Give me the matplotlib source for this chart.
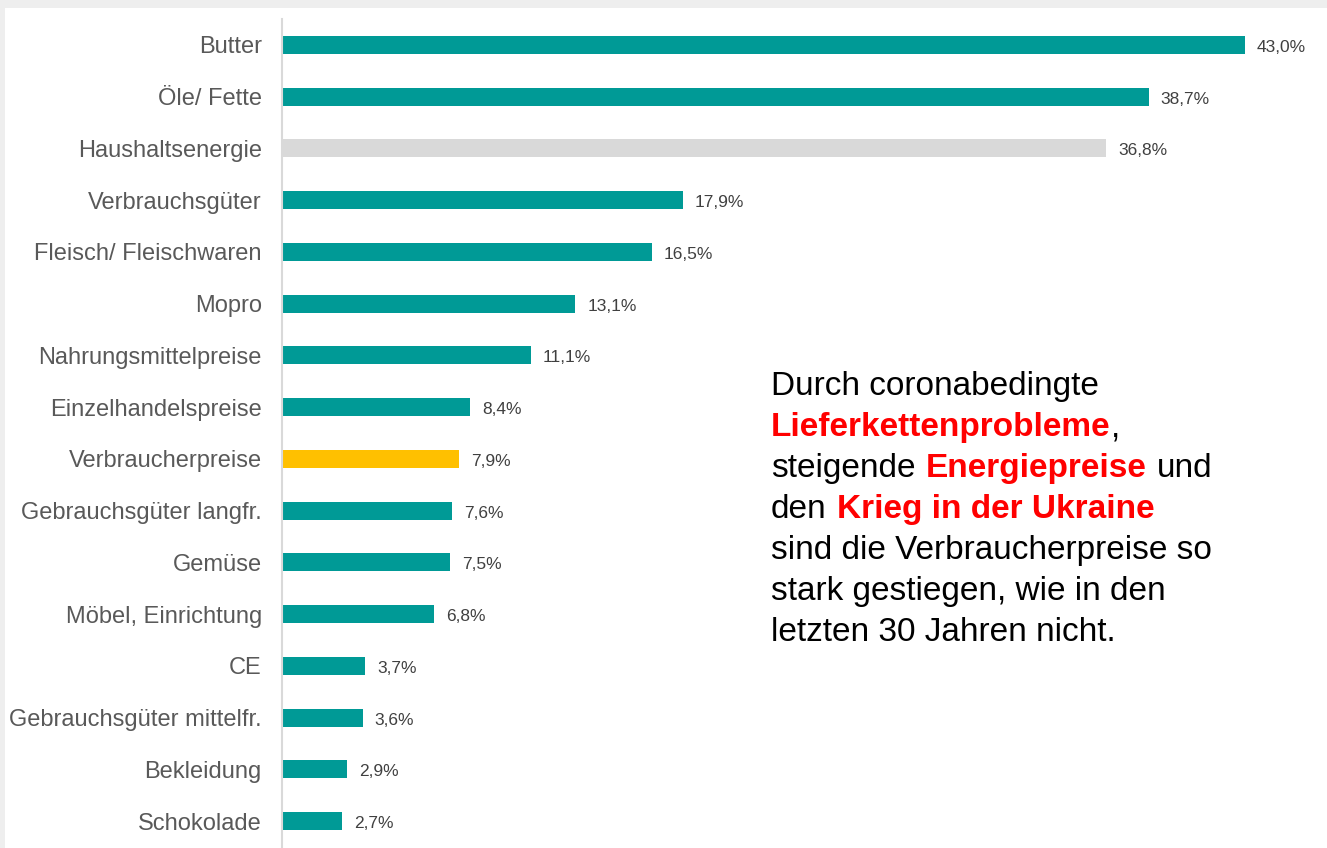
import matplotlib
matplotlib.use("Agg")
import matplotlib.pyplot as plt
from matplotlib.patches import Rectangle

plt.rcParams['font.family'] = ['Liberation Sans', 'DejaVu Sans']

categories = ["Butter", "Öle/ Fette", "Haushaltsenergie", "Verbrauchsgüter",
              "Fleisch/ Fleischwaren", "Mopro", "Nahrungsmittelpreise",
              "Einzelhandelspreise", "Verbraucherpreise", "Gebrauchsgüter langfr.",
              "Gemüse", "Möbel, Einrichtung", "CE", "Gebrauchsgüter mittelfr.",
              "Bekleidung", "Schokolade"]
values = [43.0, 38.7, 36.8, 17.9, 16.5, 13.1, 11.1, 8.4, 7.9, 7.6, 7.5, 6.8,
          3.7, 3.6, 2.9, 2.7]
highlight = {"Haushaltsenergie": "#d9d9d9", "Verbraucherpreise": "#ffc000"}
teal = "#009a96"

W, H = 1327, 848
fig = plt.figure(figsize=(W / 100, H / 100), dpi=100)
fig.patch.set_facecolor("#eeeeee")
# white slide panel with a soft gray frame top/left
fig.patches.append(Rectangle((5 / W, 0), 1 - 5 / W, 1 - 8 / H, transform=fig.transFigure,
                             facecolor="white", edgecolor="none", zorder=-10))

# axes in pixel positions: left 282, top 19, bottom 847
left, top, bottom = 282, 19, 847
xmax = 46
px_per_unit = (1245 - 282) / 43.0
right = left + xmax * px_per_unit
ax = fig.add_axes([left / W, (H - bottom) / H, (right - left) / W, (bottom - top) / H])
ax.set_facecolor("none")

colors = [highlight.get(c, teal) for c in categories]
ypos = list(range(len(categories)))
ax.barh(ypos, values, height=0.35, color=colors)
ax.set_ylim(len(categories) - 0.5, -0.5)
ax.set_xlim(0, xmax)

for y, v in zip(ypos, values):
    ax.annotate(f"{v:.1f}%".replace(".", ","), (v, y), xytext=(12, -1),
                textcoords="offset pixels", va="center_baseline", ha="left",
                fontsize=12.5, color="#404040")

ax.set_yticks(ypos)
ax.set_yticklabels(categories, fontsize=17, color="#595959")
ax.tick_params(axis="y", length=0, pad=14.5)
ax.set_xticks([])
for s in ["top", "right", "bottom"]:
    ax.spines[s].set_visible(False)
ax.spines["left"].set_color("#d9d9d9")
ax.spines["left"].set_linewidth(1.5)

# annotation text with mixed styling
renderer = fig.canvas.get_renderer()
fs = 24


def width_px(s, weight):
    t = fig.text(0, 0, s, fontsize=fs, fontweight=weight)
    w = t.get_window_extent(renderer).width
    t.remove()
    return w


space_w = width_px("x x", "normal") - width_px("xx", "normal")

lines = [
    [("Durch coronabedingte", "black", "normal")],
    [("Lieferkettenprobleme", "red", "bold"), (",", "black", "normal")],
    [("steigende", "black", "normal"), (" ", None, None),
     ("Energiepreise", "red", "bold"), (" ", None, None), ("und", "black", "normal")],
    [("den", "black", "normal"), (" ", None, None), ("Krieg in der Ukraine", "red", "bold")],
    [("sind die Verbraucherpreise so", "black", "normal")],
    [("stark gestiegen, wie in den", "black", "normal")],
    [("letzten 30 Jahren nicht.", "black", "normal")],
]

x0, base0, step = 771, 395, 41
for i, parts in enumerate(lines):
    x = x0
    yb = base0 + i * step
    for txt, col, wt in parts:
        if col is None:
            x += space_w * 1.1
            continue
        t = fig.text(x / W, 1 - yb / H, txt, fontsize=fs, color=col, fontweight=wt,
                     va="baseline", ha="left")
        x += t.get_window_extent(renderer).width

fig.savefig("out.png", dpi=100, facecolor=fig.get_facecolor())
